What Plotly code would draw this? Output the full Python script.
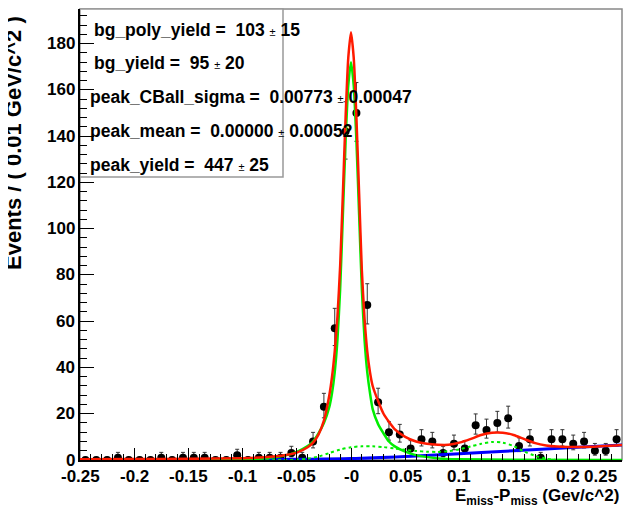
import plotly.graph_objects as go

# ---------------- data ----------------
bin_centers = [-0.245, -0.235, -0.225, -0.215, -0.205, -0.195, -0.185, -0.175, -0.165, -0.155,
               -0.145, -0.135, -0.125, -0.115, -0.105, -0.095, -0.085, -0.075, -0.065, -0.055,
               -0.045, -0.035, -0.025, -0.015, -0.005, 0.005, 0.015, 0.025, 0.035, 0.045,
               0.055, 0.065, 0.075, 0.085, 0.095, 0.105, 0.115, 0.125, 0.135, 0.145,
               0.155, 0.165, 0.175, 0.185, 0.195, 0.205, 0.215, 0.225, 0.235, 0.245]
counts = [0, 0, 0, 1, 0, 0, 0, 1, 0, 1,
          1, 1, 0, 0, 2, 0, 1, 1, 1, 3,
          1, 8, 23, 57, 142, 150, 67, 25, 12, 11,
          5, 9, 8, 3, 7, 5, 15, 13, 16, 18,
          6, 9, 1, 9, 9, 7, 8, 4, 4, 9]
err_hi = [1.15, 1.15, 1.15, 2.3, 1.15, 1.15, 1.15, 2.3, 1.15, 2.3,
          2.3, 2.3, 1.15, 1.15, 2.64, 1.15, 2.3, 2.3, 2.3, 2.92,
          2.3, 3.95, 5.82, 8.58, 12.9, 13.2, 9.22, 6.03, 4.55, 4.41,
          3.38, 4.11, 3.95, 2.92, 3.77, 3.38, 4.92, 4.67, 5.04, 5.27,
          3.58, 4.11, 2.3, 4.11, 4.11, 3.77, 3.95, 3.16, 3.16, 4.11]
err_lo = [0, 0, 0, 0.83, 0, 0, 0, 0.83, 0, 0.83,
          0.83, 0.83, 0, 0, 1.29, 0, 0.83, 0.83, 0.83, 1.63,
          0.83, 2.77, 4.77, 7.52, 11.9, 12.2, 8.17, 4.98, 3.41, 3.26,
          2.16, 2.94, 2.77, 1.63, 2.58, 2.16, 3.82, 3.55, 3.95, 4.2,
          2.38, 2.94, 0.83, 2.94, 2.94, 2.58, 2.77, 1.91, 1.91, 2.94]

# total fit (red)
total_x = [-0.25, -0.2, -0.15, -0.1, -0.08, -0.06, -0.05, -0.04, -0.035, -0.03, -0.025, -0.02,
           -0.0175, -0.015, -0.0125, -0.01, -0.0075, -0.005, -0.0025, 0.0, 0.0025, 0.005, 0.0075,
           0.01, 0.0125, 0.015, 0.0175, 0.02, 0.025, 0.03, 0.035, 0.04, 0.05, 0.06, 0.07, 0.08,
           0.09, 0.1, 0.11, 0.12, 0.13, 0.14, 0.15, 0.16, 0.17, 0.18, 0.19, 0.2, 0.22, 0.25]
total_y = [0.3, 0.4, 0.5, 0.8, 1.2, 2.2, 3.2, 5.5, 7.5, 11, 17, 28,
           36, 47, 62, 84, 115, 148, 174, 185, 174, 148, 115,
           82, 61, 47, 38, 32, 25.5, 20, 16.5, 13.5, 10, 8, 7, 6.6,
           6.6, 7.5, 9, 10.8, 11.8, 11.8, 10.8, 9, 7.3, 6.3, 5.8, 5.6, 5.7, 6.5]

# peak component (green solid)
peak_x = [-0.25, -0.15, -0.1, -0.08, -0.06, -0.05, -0.04, -0.035, -0.03, -0.025, -0.02,
          -0.0175, -0.015, -0.0125, -0.01, -0.0075, -0.005, -0.0025, 0.0, 0.0025, 0.005, 0.0075,
          0.01, 0.0125, 0.015, 0.0175, 0.02, 0.025, 0.03, 0.035, 0.04, 0.05, 0.06, 0.08, 0.1,
          0.15, 0.25]
peak_y = [0.05, 0.1, 0.3, 0.7, 2.0, 3.5, 6.0, 8.0, 11.5, 16, 23,
          29, 38, 52, 74, 106, 138, 162, 172, 162, 138, 106,
          74, 52, 38, 29, 22, 15.5, 11.5, 8, 6, 3.6, 2.1, 0.7, 0.3,
          0.1, 0.05]

# bg component (green dotted)
bg_x = [-0.25, -0.06, -0.05, -0.04, -0.03, -0.02, -0.01, 0.0, 0.01, 0.02, 0.03, 0.04, 0.05,
        0.06, 0.07, 0.08, 0.09, 0.1, 0.11, 0.12, 0.13, 0.14, 0.15, 0.16, 0.17, 0.18, 0.19, 0.25]
bg_y = [0, 0, 0.2, 0.6, 1.5, 3, 4.5, 5.5, 5.9, 5.9, 5.6, 5.0, 4.4,
        3.9, 3.6, 3.5, 3.8, 4.6, 5.8, 7.0, 7.8, 7.5, 6.0, 3.6, 1.8, 0.6, 0, 0]

# bg_poly component (blue)
poly_x = [-0.25, -0.15, -0.1, -0.05, 0.0, 0.05, 0.1, 0.15, 0.2, 0.25]
poly_y = [0, 0, 0.1, 0.3, 0.6, 1.5, 2.7, 4.0, 5.3, 6.5]

x_tickvals = [-0.25, -0.2, -0.15, -0.1, -0.05, 0, 0.05, 0.1, 0.15, 0.2, 0.25]
x_ticktext = ["-0.25", "-0.2", "-0.15", "-0.1", "-0.05", "-0", "0.05", "0.1", "0.15", "0.2", "0.25"]
y_tickvals = [0, 20, 40, 60, 80, 100, 120, 140, 160, 180]

param_names = ["bg_poly_yield", "bg_yield", "peak_CBall_sigma", "peak_mean", "peak_yield"]
param_values = ["103", "95", "0.00773", "0.00000", "447"]
param_errors = ["15", "20", "0.00047", "0.00052", "25"]

# ---------------- figure ----------------
FONT = "Liberation Sans, Arial, Helvetica, sans-serif"
OFF = 8                     # page body margin of the browser
W, H = 637 - OFF, 511 - OFF
PL, PR, PT, PB = 80, 622, 9, 460          # plot area in window pixels
L, T = PL - OFF, PT - OFF
PW, PH = PR - PL, PB - PT
R, B = W - L - PW, H - T - PH


def px_x(p):
    return (p - PL) / PW


def px_y(p):
    return (PB - p) / PH


fig = go.Figure()

fig.add_trace(go.Scatter(
    x=bin_centers, y=counts, mode="markers",
    marker=dict(color="black", size=8),
    error_y=dict(type="data", array=err_hi, arrayminus=err_lo, symmetric=False,
                 color="#333333", thickness=1, width=2),
    showlegend=False, hoverinfo="skip"))

fig.add_trace(go.Scatter(x=poly_x, y=poly_y, mode="lines", line=dict(color="#0000ff", width=3, shape="spline"),
                         showlegend=False))
fig.add_trace(go.Scatter(x=bg_x, y=bg_y, mode="lines",
                         line=dict(color="#00ee00", width=2, dash="dot", shape="spline", smoothing=0.8),
                         showlegend=False))
fig.add_trace(go.Scatter(x=peak_x, y=peak_y, mode="lines",
                         line=dict(color="#00ee00", width=2.5, shape="spline", smoothing=0.6),
                         showlegend=False))
fig.add_trace(go.Scatter(x=total_x, y=total_y, mode="lines",
                         line=dict(color="#ff1a00", width=2.5, shape="spline", smoothing=0.6),
                         showlegend=False))

fig.update_xaxes(
    range=[-0.25, 0.25], tickmode="array", tickvals=x_tickvals, showticklabels=False,
    ticks="inside", ticklen=12, tickwidth=1, tickcolor="black",
    minor=dict(dtick=0.01, tick0=-0.25, ticks="inside", ticklen=6, tickcolor="black", tickwidth=1),
    showline=True, linecolor="black", linewidth=2, showgrid=False, zeroline=False)
fig.update_yaxes(
    range=[0, 195], tickmode="array", tickvals=y_tickvals, showticklabels=False,
    ticks="inside", ticklen=14, tickwidth=1, tickcolor="black",
    minor=dict(dtick=4, tick0=0, ticks="inside", ticklen=7, tickcolor="black", tickwidth=1),
    showline=True, linecolor="black", linewidth=2, showgrid=False, zeroline=False)

shapes = [
    dict(type="rect", xref="paper", yref="paper", x0=0, x1=1, y0=0, y1=1,
         line=dict(color="#888888", width=1.5), layer="below"),
    dict(type="rect", xref="paper", yref="paper", x0=px_x(80), x1=px_x(283), y0=px_y(177), y1=px_y(9),
         line=dict(color="#999999", width=1.5), fillcolor="white", layer="below"),
]

tick_font = dict(family=FONT, size=17, color="black", weight="bold")
annotations = []
for v, t in zip(x_tickvals, x_ticktext):
    if v == x_tickvals[-1]:
        annotations.append(dict(xref="paper", yref="paper", x=px_x(619), y=px_y(465), xanchor="right",
                                yanchor="top", text=t, showarrow=False, font=tick_font))
    else:
        annotations.append(dict(xref="x", yref="paper", x=v, y=px_y(465), xanchor="center", yanchor="top",
                                text=t, showarrow=False, font=tick_font))
for v in y_tickvals:
    annotations.append(dict(xref="paper", yref="y", x=px_x(77), y=v, xanchor="right", yanchor="middle",
                            text=str(v), showarrow=False, font=tick_font))

line_y = [30, 63, 97, 131, 165]
line_x = [92, 92, 88, 88, 88]
for name, val, err, yy, xx in zip(param_names, param_values, param_errors, line_y, line_x):
    annotations.append(dict(
        xref="paper", yref="paper", x=px_x(xx), y=px_y(yy), xanchor="left", yanchor="middle",
        text=f"{name} =  {val} <span style='font-size:11px;font-weight:normal'>±</span> {err}",
        showarrow=False, font=dict(family=FONT, size=17.5, color="black", weight="bold")))

annotations.append(dict(
    xref="paper", yref="paper", x=px_x(621), y=px_y(510), xanchor="right", yanchor="bottom",
    text="E<sub>miss</sub>-P<sub>miss</sub> (Gev/c^2)", showarrow=False,
    font=dict(family=FONT, size=17, color="black", weight="bold")))

annotations.append(dict(
    xref="paper", yref="paper", x=px_x(13), y=px_y(143), xanchor="center", yanchor="middle",
    text="Events / ( 0.01 GeV/c^2 )", textangle=-90, showarrow=False,
    font=dict(family=FONT, size=22, color="black", weight="bold")))

fig.update_layout(
    width=W, height=H, margin=dict(l=L, r=R, t=T, b=B, pad=0),
    paper_bgcolor="white", plot_bgcolor="white",
    shapes=shapes, annotations=annotations, showlegend=False)

fig.write_html("out.html")
